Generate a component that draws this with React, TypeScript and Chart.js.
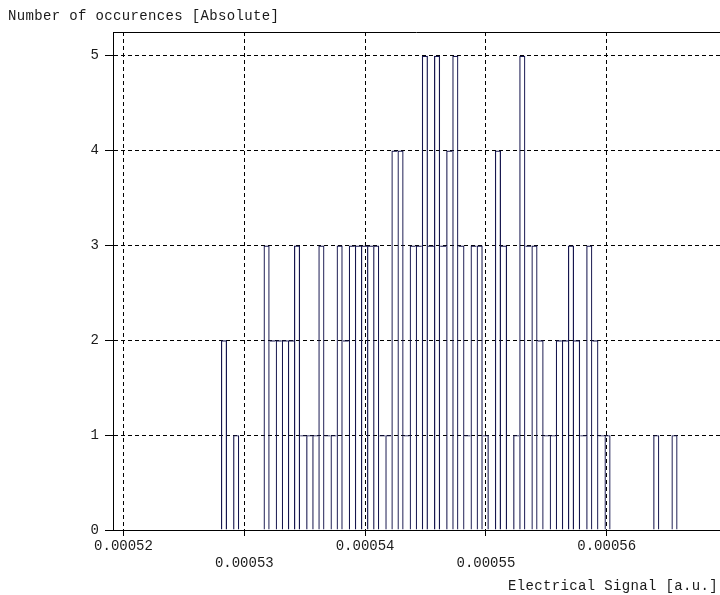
import React, { useEffect, useRef } from 'react';
import { Chart, registerables } from 'chart.js';

Chart.register(...registerables);

// Histogram bins (start of the first bin and bin width, in a.u.)
const BIN_START = 0.000528065;
const BIN_WIDTH = 0.000000504;
// Counts per bin
const COUNTS = [
  2, 0, 1, 0, 0, 0, 0, 3, 2, 2, 2, 2, 3, 1, 1, 1, 3, 1, 1, 3,
  2, 3, 3, 3, 3, 3, 1, 1, 4, 4, 1, 3, 3, 5, 3, 5, 3, 4, 5, 3,
  1, 3, 3, 1, 0, 4, 3, 0, 1, 5, 3, 3, 2, 1, 1, 2, 2, 3, 2, 1,
  3, 2, 1, 1, 0, 0, 0, 0, 0, 0, 0, 1, 0, 0, 1,
];
const X_MIN = 0.00051913;
const X_MAX = 0.00056938;
const X_STEP = 0.00001;
const Y_MIN = 0;
const Y_MAX = 5.25;
const Y_STEP = 1;
const Y_TITLE = 'Number of occurences [Absolute]';
const X_TITLE = 'Electrical Signal [a.u.]';

const FONT_FAMILY = '"Liberation Mono", "DejaVu Sans Mono", monospace';
const BAR_COLOR = '#16164e';
const TEXT_COLOR = '#1a1a1a';

export default function App() {
  const ref = useRef<HTMLCanvasElement | null>(null);

  useEffect(() => {
    if (!ref.current) return;
    const titlesPlugin = {
      id: 'titles',
      afterDraw(chart: any) {
        const { ctx, chartArea } = chart;
        ctx.save();
        ctx.strokeStyle = '#000';
        ctx.lineWidth = 1;
        ctx.beginPath();
        ctx.moveTo(chartArea.left, Math.round(chartArea.top) + 0.5);
        ctx.lineTo(chartArea.right, Math.round(chartArea.top) + 0.5);
        ctx.stroke();
        ctx.fillStyle = TEXT_COLOR;
        ctx.font = `14px ${FONT_FAMILY}`;
        try { (ctx as any).letterSpacing = '0.35px'; } catch (e) { /* ignore */ }
        ctx.textBaseline = 'middle';
        ctx.textAlign = 'left';
        ctx.fillText(Y_TITLE, 8, 16);
        ctx.textAlign = 'right';
        ctx.fillText(X_TITLE, 718, 586);
        ctx.restore();
      },
    };

    const data = COUNTS.map((c, i) => ({ x: BIN_START + (i + 0.5) * BIN_WIDTH, y: c }));

    const chart = new Chart(ref.current, {
      type: 'bar',
      data: {
        datasets: [
          {
            data,
            backgroundColor: 'rgba(0,0,0,0)',
            borderColor: BAR_COLOR,
            inflateAmount: 0,
            barPercentage: 1,
            categoryPercentage: 1,
            borderSkipped: false,
            borderWidth: (ctx: any) => {
              const i = ctx.dataIndex;
              const h = COUNTS[i] ?? 0;
              const prev = i > 0 ? COUNTS[i - 1] : 0;
              const next = i < COUNTS.length - 1 ? COUNTS[i + 1] : 0;
              return { top: 1.2, left: h >= prev ? 1.2 : 0, right: h > next ? 1.2 : 0, bottom: 0 };
            },
          } as any,
        ],
      },
      options: {
        animation: false,
        responsive: false,
        maintainAspectRatio: false,
        layout: { padding: { left: 0, top: 32, right: 0, bottom: 0 } },
        plugins: { legend: { display: false }, tooltip: { enabled: false } },
        scales: {
          x: {
            type: 'linear',
            min: X_MIN,
            max: X_MAX,
            offset: false,
            afterFit: (s: any) => { s.height = 65; },
            ticks: {
              stepSize: X_STEP,
              includeBounds: false,
              autoSkip: false,
              maxRotation: 0,
              color: TEXT_COLOR,
              padding: 2,
              font: { family: FONT_FAMILY, size: 14, lineHeight: 1.2 },
              callback: (v: any) => {
                const n = Math.round(Number(v) * 1e5);
                const s = (n / 1e5).toFixed(5);
                return n % 2 === 0 ? [s, ''] : ['', s];
              },
            },
            grid: { color: '#000', lineWidth: 1, offset: false, tickLength: 6, tickBorderDash: [] } as any,
            border: { display: true, color: '#000', width: 1, dash: [4, 3] },
          },
          y: {
            type: 'linear',
            min: Y_MIN,
            max: Y_MAX,
            afterFit: (s: any) => { s.width = 113; },
            ticks: {
              stepSize: Y_STEP,
              includeBounds: false,
              color: TEXT_COLOR,
              padding: 6,
              font: { family: FONT_FAMILY, size: 14 },
            },
            grid: { color: '#000', lineWidth: 1, tickLength: 8, tickBorderDash: [] } as any,
            border: { display: true, color: '#000', width: 1, dash: [4, 3] },
          },
        },
      } as any,
      plugins: [titlesPlugin],
    });
    return () => chart.destroy();
  }, []);

  return (
    <div style={{ position: 'fixed', left: 0, top: 0, width: 720, height: 595, overflow: 'hidden', background: '#fff' }}>
      <canvas ref={ref} width={720} height={595} style={{ display: 'block', width: 720, height: 595 }} />
    </div>
  );
}
